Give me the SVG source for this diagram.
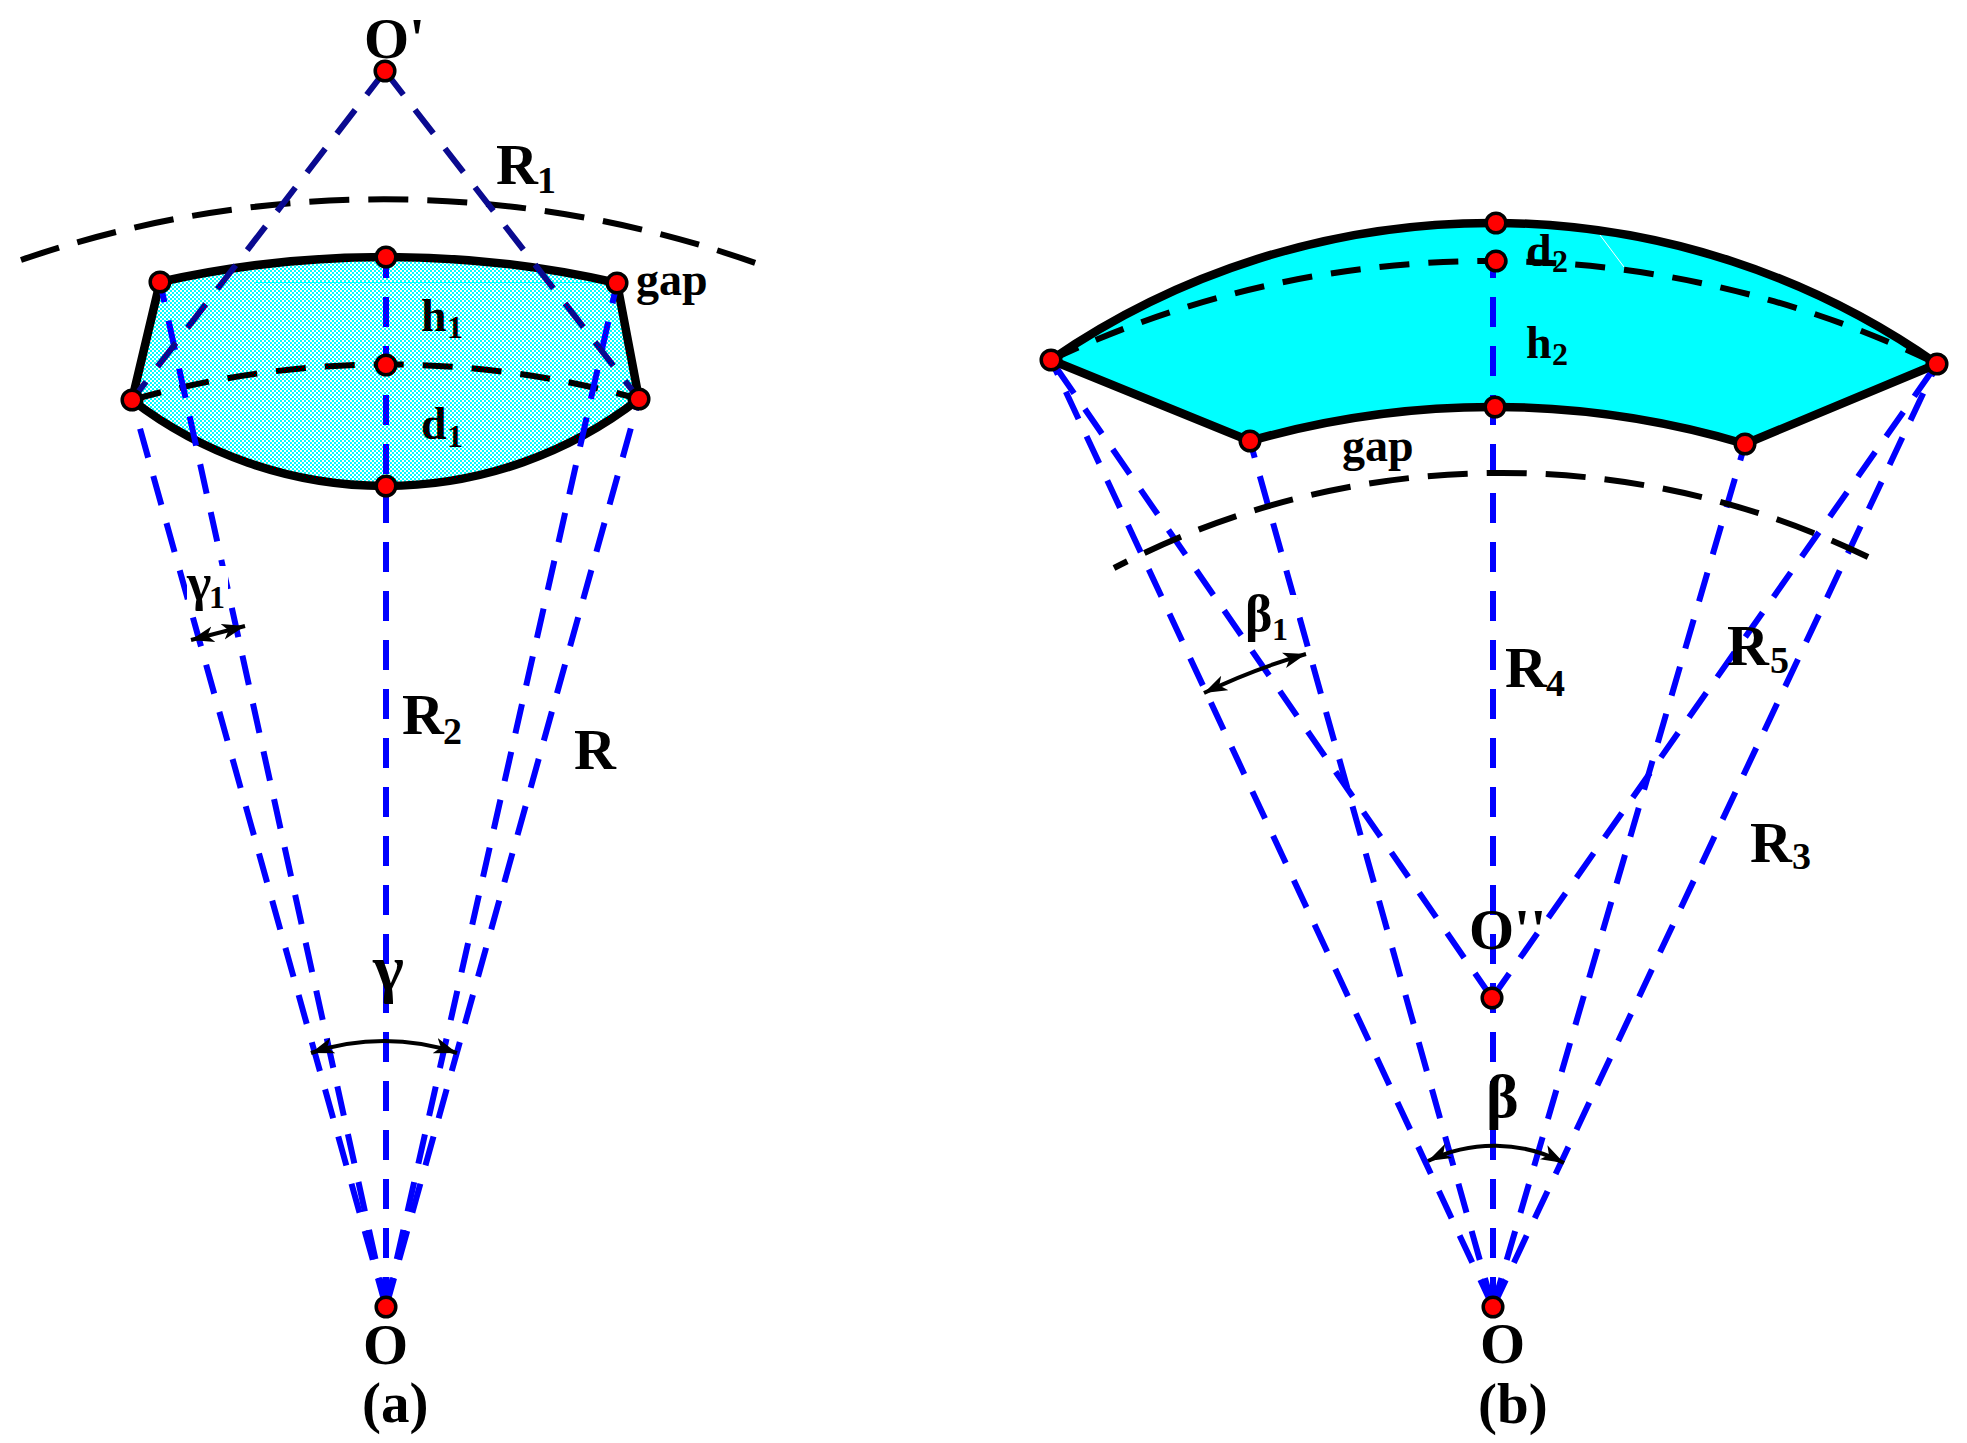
<svg xmlns="http://www.w3.org/2000/svg" width="1967" height="1443" viewBox="0 0 1967 1443">
<style>
text{font-family:"Liberation Serif","Times New Roman",serif;font-weight:bold;fill:#000}
.big{font-size:58px}.cap{font-size:57px}.mid{font-size:46px}
.s1{font-size:38px}.s2{font-size:32px}
.blue{fill:none;stroke:#0000ff;stroke-width:6;stroke-dasharray:30 19}
.navy{fill:none;stroke:#0a0a90;stroke-width:6;stroke-dasharray:30 19}
.edge{fill:none;stroke:#000;stroke-width:8.5;stroke-linejoin:round}
.dash{fill:none;stroke:#000;stroke-width:6;stroke-dasharray:30 19}
.long{fill:none;stroke:#000;stroke-width:6;stroke-dasharray:40 19}
.angle{fill:none;stroke:#000;stroke-width:4;marker-start:url(#arrow);marker-end:url(#arrow)}
.dot{fill:#f00;stroke:#000;stroke-width:3.5}
</style>
<defs>
<pattern id="dither" width="4" height="4" patternUnits="userSpaceOnUse">
<rect width="4" height="4" fill="#fff"/>
<rect width="2" height="2" fill="#00ffff"/>
<rect x="2" y="2" width="2" height="2" fill="#00ffff"/>
</pattern>
<marker id="arrow" markerUnits="userSpaceOnUse" markerWidth="24" markerHeight="18" viewBox="0 0 24 18" refX="23" refY="9" orient="auto-start-reverse">
<path d="M0 1L23 9L0 17L6 9Z" fill="#000"/>
</marker>
</defs>
<rect width="1967" height="1443" fill="#fff"/>

<g id="shape-a">
<path d="M160 282A1032 1032 0 0 1 617 283L639 399A415 415 0 0 1 132 400Z" fill="url(#dither)"/>
<line x1="255" y1="282.5" x2="602" y2="282.5" stroke="#00ffff" stroke-width="1"/>
<path class="edge" d="M132 400L160 282A1032 1032 0 0 1 617 283L639 399A415 415 0 0 1 132 400Z"/>
<path class="dash" d="M132 400A935 935 0 0 1 639 399"/>
<path class="long" d="M21 260A1115 1115 0 0 1 761 265"/>
</g>
<g id="shape-b">
<path d="M1051 360A775 775 0 0 1 1937 364L1745 444A880 880 0 0 0 1250 441Z" fill="#00ffff"/>
<line x1="1600" y1="235" x2="1624" y2="267" stroke="#fff" stroke-width="1"/>
</g>

<g id="connectors">
<line class="blue" x1="386" y1="1307" x2="386" y2="257"/>
<line class="blue" x1="386" y1="1307" x2="160" y2="282"/>
<line class="blue" x1="386" y1="1307" x2="617" y2="283"/>
<line class="blue" x1="386" y1="1307" x2="132" y2="400"/>
<line class="blue" x1="386" y1="1307" x2="639" y2="399"/>
<line class="navy" x1="385" y1="71" x2="132" y2="400"/>
<line class="navy" x1="385" y1="71" x2="639" y2="399"/>
<line class="blue" x1="1493" y1="1307" x2="1493" y2="261"/>
<line class="blue" x1="1493" y1="1307" x2="1250" y2="441"/>
<line class="blue" x1="1493" y1="1307" x2="1745" y2="444"/>
<line class="blue" x1="1493" y1="1307" x2="1051" y2="360"/>
<line class="blue" x1="1493" y1="1307" x2="1937" y2="364"/>
<line class="blue" x1="1492" y1="998" x2="1051" y2="360"/>
<line class="blue" x1="1492" y1="998" x2="1937" y2="364"/>
<path class="edge" d="M1051 360A775 775 0 0 1 1937 364L1745 444A880 880 0 0 0 1250 441Z"/>
<path class="dash" d="M1051 360A1022 1022 0 0 1 1937 364"/>
<path class="long" style="stroke-dashoffset:25" d="M1114 568A839 839 0 0 1 1872 559"/>
<path class="angle" d="M311 1053A230 230 0 0 1 457 1053"/>
<path class="angle" d="M1428 1161A150 150 0 0 1 1564 1163"/>
<line class="angle" x1="191" y1="640" x2="245" y2="626"/>
<path class="angle" d="M1204 693A630 630 0 0 1 1306 654"/>
<rect x="187" y="566" width="41" height="48" fill="#fff"/>
<rect x="1245" y="595" width="52" height="54" fill="#fff"/>
</g>

<g id="node-o-prime"><circle class="dot" cx="385" cy="71" r="9.8"/><text class="big" x="364" y="58">O'</text></g>
<g id="node-a-top"><circle class="dot" cx="386" cy="257" r="9.8"/></g>
<g id="node-a-top-left"><circle class="dot" cx="160" cy="282" r="9.8"/></g>
<g id="node-a-top-right"><circle class="dot" cx="617" cy="283" r="9.8"/></g>
<g id="node-a-left"><circle class="dot" cx="132" cy="400" r="9.8"/></g>
<g id="node-a-right"><circle class="dot" cx="639" cy="399" r="9.8"/></g>
<g id="node-a-mid"><circle class="dot" cx="386" cy="365" r="9.8"/></g>
<g id="node-a-bottom"><circle class="dot" cx="386" cy="486" r="9.8"/></g>
<g id="node-o-a"><circle class="dot" cx="386" cy="1307" r="9.8"/><text class="big" x="363" y="1364">O</text></g>
<g id="node-b-top"><circle class="dot" cx="1496" cy="223" r="9.8"/></g>
<g id="node-b-d2"><circle class="dot" cx="1496" cy="261" r="9.8"/></g>
<g id="node-b-left"><circle class="dot" cx="1051" cy="360" r="9.8"/></g>
<g id="node-b-right"><circle class="dot" cx="1937" cy="364" r="9.8"/></g>
<g id="node-b-low"><circle class="dot" cx="1495" cy="407" r="9.8"/></g>
<g id="node-b-low-left"><circle class="dot" cx="1250" cy="441" r="9.8"/></g>
<g id="node-b-low-right"><circle class="dot" cx="1745" cy="444" r="9.8"/></g>
<g id="node-o-dprime"><circle class="dot" cx="1492" cy="998" r="9.8"/><text class="big" x="1469" y="949">O''</text></g>
<g id="node-o-b"><circle class="dot" cx="1493" cy="1307" r="9.8"/><text class="big" x="1480" y="1363">O</text></g>

<g id="labels">
<text class="big" x="496" y="184">R<tspan class="s1" x="537" y="193">1</tspan></text>
<text class="mid" x="636" y="295">gap</text>
<text class="mid" x="421" y="331">h<tspan class="s2" x="447" y="338">1</tspan></text>
<text class="mid" x="421" y="439">d<tspan class="s2" x="447" y="447">1</tspan></text>
<text class="big" x="402" y="734">R<tspan class="s1" x="443" y="744">2</tspan></text>
<text class="big" x="574" y="769">R</text>
<text style="font-size:52px" x="187" y="600">γ<tspan class="s2" x="209" y="608">1</tspan></text>
<text style="font-size:66px" x="373" y="990">γ</text>
<text class="cap" x="362" y="1422">(a)</text>
<text class="mid" x="1526" y="266">d<tspan class="s2" x="1552" y="272">2</tspan></text>
<text class="mid" x="1526" y="358">h<tspan class="s2" x="1552" y="365">2</tspan></text>
<text class="mid" x="1342" y="461">gap</text>
<text class="big" x="1505" y="687">R<tspan class="s1" x="1546" y="696">4</tspan></text>
<text class="big" x="1727" y="665">R<tspan class="s1" x="1770" y="673">5</tspan></text>
<text class="big" x="1750" y="862">R<tspan class="s1" x="1792" y="869">3</tspan></text>
<text style="font-size:52px" x="1245" y="631">β<tspan class="s2" x="1272" y="640">1</tspan></text>
<text style="font-size:62px" x="1486" y="1117">β</text>
<text class="cap" x="1478" y="1423">(b)</text>
</g>
</svg>
